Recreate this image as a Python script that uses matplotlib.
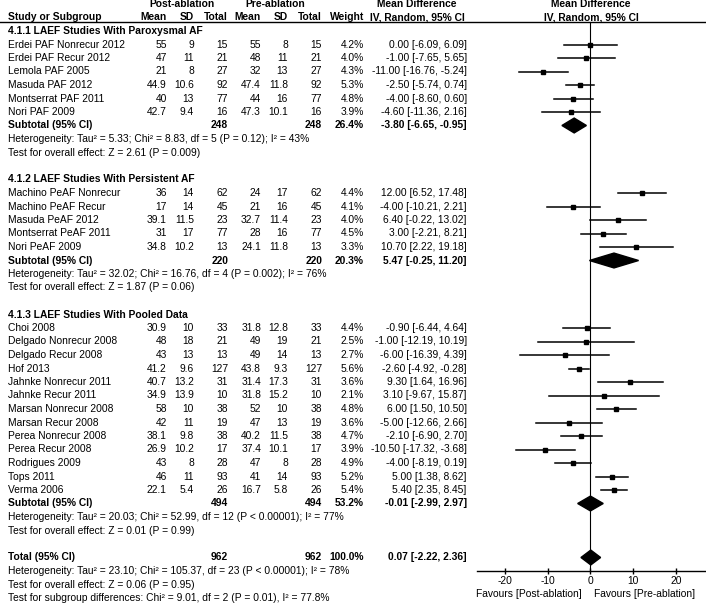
import matplotlib.pyplot as plt
import numpy as np

plt.rcParams['font.family'] = ['Liberation Sans', 'DejaVu Sans']
FS = 7.4

# ---- data ----
groups = ['4.1.1 LAEF Studies With Paroxysmal AF',
          '4.1.2 LAEF Studies With Persistent AF',
          '4.1.3 LAEF Studies With Pooled Data']

studies = [
    ['Erdei PAF Nonrecur 2012', 'Erdei PAF Recur 2012', 'Lemola PAF 2005',
     'Masuda PAF 2012', 'Montserrat PAF 2011', 'Nori PAF 2009'],
    ['Machino PeAF Nonrecur', 'Machino PeAF Recur', 'Masuda PeAF 2012',
     'Montserrat PeAF 2011', 'Nori PeAF 2009'],
    ['Choi 2008', 'Delgado Nonrecur 2008', 'Delgado Recur 2008', 'Hof 2013',
     'Jahnke Nonrecur 2011', 'Jahnke Recur 2011', 'Marsan Nonrecur 2008',
     'Marsan Recur 2008', 'Perea Nonrecur 2008', 'Perea Recur 2008',
     'Rodrigues 2009', 'Tops 2011', 'Verma 2006'],
]
post_mean = [['55', '47', '21', '44.9', '40', '42.7'],
             ['36', '17', '39.1', '31', '34.8'],
             ['30.9', '48', '43', '41.2', '40.7', '34.9', '58', '42', '38.1', '26.9', '43', '46', '22.1']]
post_sd = [['9', '11', '8', '10.6', '13', '9.4'],
           ['14', '14', '11.5', '17', '10.2'],
           ['10', '18', '13', '9.6', '13.2', '13.9', '10', '11', '9.8', '10.2', '8', '11', '5.4']]
post_n = [[15, 21, 27, 92, 77, 16],
          [62, 45, 23, 77, 13],
          [33, 21, 13, 127, 31, 10, 38, 19, 38, 17, 28, 93, 26]]
pre_mean = [['55', '48', '32', '47.4', '44', '47.3'],
            ['24', '21', '32.7', '28', '24.1'],
            ['31.8', '49', '49', '43.8', '31.4', '31.8', '52', '47', '40.2', '37.4', '47', '41', '16.7']]
pre_sd = [['8', '11', '13', '11.8', '16', '10.1'],
          ['17', '16', '11.4', '16', '11.8'],
          ['12.8', '19', '14', '9.3', '17.3', '15.2', '10', '13', '11.5', '10.1', '8', '14', '5.8']]
pre_n = post_n
weight = [[4.2, 4.0, 4.3, 5.3, 4.8, 3.9],
          [4.4, 4.1, 4.0, 4.5, 3.3],
          [4.4, 2.5, 2.7, 5.6, 3.6, 2.1, 4.8, 3.6, 4.7, 3.9, 4.9, 5.2, 5.4]]
md = [[0.00, -1.00, -11.00, -2.50, -4.00, -4.60],
      [12.00, -4.00, 6.40, 3.00, 10.70],
      [-0.90, -1.00, -6.00, -2.60, 9.30, 3.10, 6.00, -5.00, -2.10, -10.50, -4.00, 5.00, 5.40]]
lo = [[-6.09, -7.65, -16.76, -5.74, -8.60, -11.36],
      [6.52, -10.21, -0.22, -2.21, 2.22],
      [-6.44, -12.19, -16.39, -4.92, 1.64, -9.67, 1.50, -12.66, -6.90, -17.32, -8.19, 1.38, 2.35]]
hi = [[6.09, 5.65, -5.24, 0.74, 0.60, 2.16],
      [17.48, 2.21, 13.02, 8.21, 19.18],
      [4.64, 10.19, 4.39, -0.28, 16.96, 15.87, 10.50, 2.66, 2.70, -3.68, 0.19, 8.62, 8.45]]

sub_n = [248, 220, 494]
sub_w = [26.4, 20.3, 53.2]
sub_md = [-3.80, 5.47, -0.01]
sub_lo = [-6.65, -0.25, -2.99]
sub_hi = [-0.95, 11.20, 2.97]
sub_het = ['Heterogeneity: Tau² = 5.33; Chi² = 8.83, df = 5 (P = 0.12); I² = 43%',
           'Heterogeneity: Tau² = 32.02; Chi² = 16.76, df = 4 (P = 0.002); I² = 76%',
           'Heterogeneity: Tau² = 20.03; Chi² = 52.99, df = 12 (P < 0.00001); I² = 77%']
sub_z = ['Test for overall effect: Z = 2.61 (P = 0.009)',
         'Test for overall effect: Z = 1.87 (P = 0.06)',
         'Test for overall effect: Z = 0.01 (P = 0.99)']

tot_n = 962
tot_md, tot_lo, tot_hi = 0.07, -2.22, 2.36
tot_notes = ['Heterogeneity: Tau² = 23.10; Chi² = 105.37, df = 23 (P < 0.00001); I² = 78%',
             'Test for overall effect: Z = 0.06 (P = 0.95)',
             'Test for subgroup differences: Chi² = 9.01, df = 2 (P = 0.01), I² = 77.8%']

xticks = [-20, -10, 0, 10, 20]

# ---- layout (pixels, rows of 13.5 px) ----
W, H = 706, 605
Y0, PITCH = 4.0, 13.5


def row(px):
    return (px - Y0) / PITCH


fig = plt.figure(figsize=(W / 100, H / 100), dpi=100)
tab = fig.add_axes([0, 0, 1, 1])
tab.set_xlim(0, W)
tab.set_ylim(row(H), row(0))
tab.axis('off')

ax = fig.add_axes([476.7 / W, 1 - 571 / H, 1 - 476.7 / W, (571 - 22) / H])
ax.set_xlim(-26.5, 26.9)
ax.set_ylim(row(571), row(22))
ax.patch.set_alpha(0)
for s in ['left', 'right', 'top']:
    ax.spines[s].set_visible(False)
ax.spines['bottom'].set_linewidth(1.0)
ax.set_yticks([])
ax.set_xticks(xticks)
ax.set_xticklabels([str(t) for t in xticks], fontsize=FS)
ax.tick_params(axis='x', direction='inout', length=5, width=1.0, pad=1)
ax.axvline(0, color='black', lw=0.8)

# column right edges
cols = [166.7, 194, 228, 261, 288, 322]
X_W, X_CI, X_L = 364, 466.7, 8.5


def txt(x, r, s, ha='right', bold=False):
    tab.text(x, r, s, ha=ha, va='center', fontsize=FS,
             fontweight='bold' if bold else 'normal')


# headers
txt(182, 0, 'Post-ablation', ha='center', bold=True)
txt(275, 0, 'Pre-ablation', ha='center', bold=True)
txt(417, 0, 'Mean Difference', ha='center', bold=True)
txt(591, 0, 'Mean Difference', ha='center', bold=True)
txt(X_L, 1, 'Study or Subgroup', ha='left', bold=True)
for x, h in zip(cols, ['Mean', 'SD', 'Total', 'Mean', 'SD', 'Total']):
    txt(x, 1, h, bold=True)
txt(X_W, 1, 'Weight', bold=True)
txt(417, 1, 'IV, Random, 95% CI', ha='center', bold=True)
txt(591, 1, 'IV, Random, 95% CI', ha='center', bold=True)
tab.plot([0, W], [row(22), row(22)], color='black', lw=1.0)

DH = 0.55
r = 2
for g in range(len(groups)):
    txt(X_L, r, groups[g], ha='left', bold=True)
    r += 1
    for i, name in enumerate(studies[g]):
        txt(X_L, r, name, ha='left')
        vals = [post_mean[g][i], post_sd[g][i], str(post_n[g][i]),
                pre_mean[g][i], pre_sd[g][i], str(pre_n[g][i])]
        for x, v in zip(cols, vals):
            txt(x, r, v)
        txt(X_W, r, f'{weight[g][i]:.1f}%')
        txt(X_CI, r, f'{md[g][i]:.2f} [{lo[g][i]:.2f}, {hi[g][i]:.2f}]')
        ax.plot([lo[g][i], hi[g][i]], [r, r], color='black', lw=1.1)
        ax.plot(md[g][i], r, marker='s', color='black',
                markersize=2.5 + 0.15 * weight[g][i], zorder=3)
        r += 1
    txt(X_L, r, 'Subtotal (95% CI)', ha='left', bold=True)
    txt(cols[2], r, str(sub_n[g]), bold=True)
    txt(cols[5], r, str(sub_n[g]), bold=True)
    txt(X_W, r, f'{sub_w[g]:.1f}%', bold=True)
    txt(X_CI, r, f'{sub_md[g]:.2f} [{sub_lo[g]:.2f}, {sub_hi[g]:.2f}]', bold=True)
    ax.fill([sub_lo[g], sub_md[g], sub_hi[g], sub_md[g]],
            [r, r - DH, r, r + DH], color='black', zorder=3)
    txt(X_L, r + 1, sub_het[g], ha='left')
    txt(X_L, r + 2, sub_z[g], ha='left')
    r += 4

txt(X_L, r, 'Total (95% CI)', ha='left', bold=True)
txt(cols[2], r, str(tot_n), bold=True)
txt(cols[5], r, str(tot_n), bold=True)
txt(X_W, r, '100.0%', bold=True)
txt(X_CI, r, f'{tot_md:.2f} [{tot_lo:.2f}, {tot_hi:.2f}]', bold=True)
ax.fill([tot_lo, tot_md, tot_hi, tot_md], [r, r - DH, r, r + DH],
        color='black', zorder=3, clip_on=False)
for k, note in enumerate(tot_notes):
    txt(X_L, r + 1 + k, note, ha='left')

txt(529, row(594), 'Favours [Post-ablation]', ha='center')
txt(645, row(594), 'Favours [Pre-ablation]', ha='center')

fig.savefig('out.png', dpi=100)
